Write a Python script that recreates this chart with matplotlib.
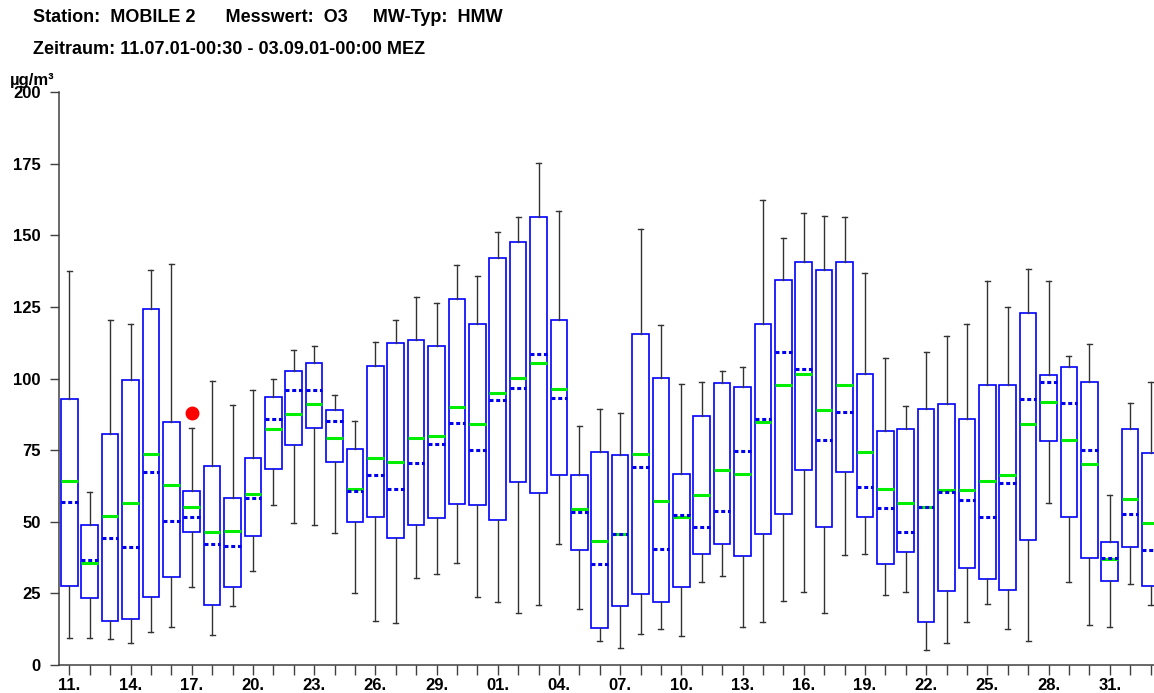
# -*- coding: utf-8 -*-
"""
O3 HMW box plot, MOBILE 2, 11.07.01 - 03.09.01
"""

import matplotlib
matplotlib.use("Agg")
import matplotlib.pyplot as plt
import pandas as pd

plt.rcParams['font.family'] = ['Liberation Sans', 'DejaVu Sans']
plt.rcParams['font.weight'] = 'bold'

# one box per day, 11.07. to 02.09.
days = pd.date_range('2001-07-11', '2001-09-02')

whis_hi = [137.7, 60.5, 120.3, 119.1, 138.0, 140.1, 82.8, 99.2, 90.7, 96.1,
           99.7, 110.0, 111.5, 94.4, 85.3, 112.8, 120.5, 128.4, 126.5, 139.6,
           135.9, 151.1, 156.4, 175.2, 158.3, 83.6, 89.3, 88.0, 152.1, 118.8,
           98.0, 98.7, 102.7, 104.0, 162.4, 149.2, 157.7, 156.9, 156.4, 136.7,
           107.1, 90.5, 109.2, 114.7, 118.9, 134.1, 125.1, 138.3, 134.1, 108.0,
           112.1, 59.2, 91.6, 98.9]
q3 = [92.9, 48.9, 80.7, 99.6, 124.1, 84.9, 60.9, 69.6, 58.4, 72.1,
      93.5, 102.5, 105.3, 89.1, 75.5, 104.3, 112.5, 113.3, 111.5, 127.9,
      119.2, 141.9, 147.5, 156.5, 120.3, 66.4, 74.4, 73.3, 115.7, 100.3,
      66.7, 86.8, 98.4, 96.9, 119.1, 134.5, 140.7, 138.0, 140.7, 101.6,
      81.7, 82.3, 89.2, 91.1, 85.7, 97.9, 97.9, 122.9, 101.3, 104.1,
      98.7, 42.9, 82.3, 74.0]
median = [64.4, 35.5, 51.9, 56.4, 73.6, 62.8, 55.2, 46.4, 46.7, 59.7,
          82.5, 87.7, 91.1, 79.3, 61.6, 72.1, 70.8, 79.3, 80.0, 90.1,
          84.1, 94.9, 100.1, 105.3, 96.5, 54.3, 43.3, 45.6, 73.5, 57.1,
          51.7, 59.3, 68.0, 66.7, 84.9, 97.7, 101.5, 89.1, 97.7, 74.5,
          61.6, 56.5, 55.2, 61.2, 61.2, 64.4, 66.3, 84.1, 91.9, 78.5,
          70.1, 36.9, 58.1, 49.7]
mean = [56.8, 36.7, 44.4, 41.2, 67.5, 50.4, 51.6, 42.4, 41.6, 58.4,
        86.0, 96.0, 96.0, 85.2, 60.9, 66.4, 61.5, 70.5, 77.2, 84.4,
        75.2, 92.4, 96.7, 108.7, 93.2, 53.5, 35.3, 45.6, 69.1, 40.5,
        52.5, 48.3, 53.7, 74.8, 86.0, 109.3, 103.3, 78.5, 88.4, 62.3,
        54.7, 46.3, 55.2, 60.5, 57.7, 51.5, 63.6, 92.9, 98.9, 91.3,
        75.2, 37.5, 52.7, 40.3]
q1 = [27.7, 23.3, 15.3, 15.9, 23.6, 30.8, 46.3, 20.8, 27.3, 45.2,
      68.4, 76.7, 82.7, 70.9, 49.9, 51.6, 44.3, 48.9, 51.2, 56.1,
      55.7, 50.7, 64.0, 60.0, 66.3, 40.3, 12.8, 20.7, 24.7, 22.1,
      27.2, 38.8, 42.3, 38.0, 45.6, 52.8, 68.0, 48.0, 67.3, 51.6,
      35.1, 39.6, 15.1, 25.9, 33.7, 29.9, 26.3, 43.7, 78.1, 51.6,
      37.2, 29.3, 41.1, 27.6]
whis_lo = [9.3, 9.6, 9.1, 7.7, 11.5, 13.1, 27.1, 10.3, 20.5, 32.7,
           56.0, 49.5, 48.7, 46.1, 25.2, 15.3, 14.7, 30.3, 31.9, 35.5,
           23.6, 21.9, 18.3, 20.9, 42.4, 19.5, 8.3, 6.1, 10.7, 12.4,
           10.0, 28.8, 31.1, 13.3, 14.9, 22.4, 25.5, 18.1, 38.3, 38.7,
           24.4, 25.5, 5.1, 7.6, 15.1, 21.3, 12.4, 8.5, 56.4, 28.8,
           13.9, 13.3, 28.3, 20.8]
# single extra point (17.07.)
dot_day = 6
dot_val = 88.0

stats = []
for i in range(len(days)):
    stats.append({'whislo': whis_lo[i], 'q1': q1[i], 'med': median[i],
                  'q3': q3[i], 'whishi': whis_hi[i], 'mean': mean[i],
                  'fliers': [dot_val] if i == dot_day else []})

fig = plt.figure(figsize=(11.54, 6.93), dpi=100)
ax = fig.add_axes([0.0514, 0.0404, 0.9486, 0.8268])

ax.bxp(stats, positions=range(len(days)), widths=0.82, capwidths=0.25,
       showmeans=True, meanline=True, patch_artist=True,
       boxprops=dict(facecolor='white', edgecolor='#0000ff', linewidth=1.2),
       whiskerprops=dict(color='#333333', linewidth=1.0),
       capprops=dict(color='#333333', linewidth=1.0),
       medianprops=dict(color='#00ee00', linewidth=2.2),
       meanprops=dict(color='#0000ee', linewidth=2.2, linestyle=(0, (1.3, 0.9))),
       flierprops=dict(marker='o', markerfacecolor='red', markeredgecolor='red',
                       markersize=9))

ax.set_xlim(-0.49, 53.17)
ax.set_ylim(0, 200)
ax.set_yticks(range(0, 201, 25))
ax.set_xticks(range(len(days)))
ax.set_xticklabels([d.strftime('%d.') if i % 3 == 0 else '' for i, d in enumerate(days)])

for s in ['top', 'right']:
    ax.spines[s].set_visible(False)
for s in ['left', 'bottom']:
    ax.spines[s].set_color('#404040')
    ax.spines[s].set_linewidth(1.1)
ax.tick_params(axis='y', length=6.3, width=1.0, color='#404040', pad=7, labelsize=12)
ax.tick_params(axis='x', length=7, width=1.0, color='#404040', pad=2, labelsize=12)
for lab in ax.get_xticklabels() + ax.get_yticklabels():
    lab.set_fontweight('bold')

fig.text(33 / 1154, 1 - 18 / 693, 'Station:  MOBILE 2      Messwert:  O3     MW-Typ:  HMW',
         fontsize=13, fontweight='bold', va='center', ha='left')
fig.text(33 / 1154, 1 - 50 / 693, 'Zeitraum: 11.07.01-00:30 - 03.09.01-00:00 MEZ',
         fontsize=13, fontweight='bold', va='center', ha='left')
fig.text(10 / 1154, 1 - 80 / 693, 'µg/m³', fontsize=12, fontweight='bold',
         va='center', ha='left')

fig.savefig('out.png', dpi=100)
